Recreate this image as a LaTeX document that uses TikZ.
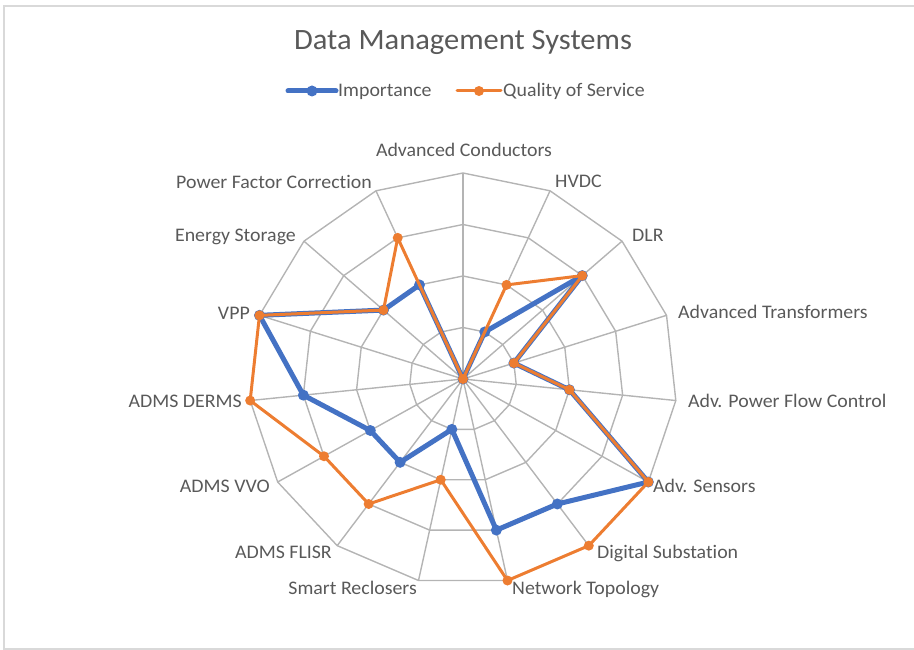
\documentclass[tikz,border=0pt]{standalone}
\usepackage{fontspec}
\setmainfont{Carlito}[FakeStretch=1.035, Ligatures=NoCommon]
\definecolor{txt}{HTML}{595959}
\definecolor{impblue}{HTML}{4472C4}
\definecolor{qosorange}{HTML}{ED7D31}
\definecolor{gridc}{HTML}{B4B4B4}
\definecolor{framec}{HTML}{D9D9D9}
\tikzset{
  lbl/.style={inner sep=0pt, text=txt, font=\fontsize{19.2}{22}\selectfont},
  ttl/.style={inner sep=0pt, text=txt, font=\fontsize{29.5}{32}\selectfont},
  gridline/.style={draw=gridc, line width=1.4pt},
  impline/.style={draw=impblue, line width=5pt, line join=round},
  qosline/.style={draw=qosorange, line width=3pt, line join=round},
}
\begin{document}
\begin{tikzpicture}[x=1pt,y=-1pt]
\useasboundingbox (0,0) rectangle (914,650);
% frame
\draw[framec, line width=2pt] (916,6) -- (4,6) -- (4,649) -- (916,649);
% grid
\foreach \r in {1,2,3,4}{
  \draw[gridline] ({463+214*sin(0)*\r/4},{379-206*cos(0)*\r/4})
    \foreach \k in {1,...,14}{ -- ({463+214*sin(24*\k)*\r/4},{379-206*cos(24*\k)*\r/4}) } -- cycle;
}
\coordinate (c) at (463,379);
\foreach \k in {0,...,14}{
  \coordinate (t\k) at ({463+214*sin(24*\k)},{379-206*cos(24*\k)});
  \draw[gridline] (c) -- (t\k);
}
% data
\foreach \v [count=\i from 0] in {0,1,3,1,2,4,3,3,1,2,2,3,4,2,2}{
  \coordinate (b\i) at ({463+214*sin(24*\i)*\v/4},{379-206*cos(24*\i)*\v/4});
}
\foreach \v [count=\i from 0] in {0,2,3,1,2,4,4,4,2,3,3,4,4,2,3}{
  \coordinate (o\i) at ({463+214*sin(24*\i)*\v/4},{379-206*cos(24*\i)*\v/4});
}
\draw[impline] (b0) \foreach \k in {1,...,14}{ -- (b\k) } -- cycle;
\foreach \k in {0,...,14}{ \fill[impblue] (b\k) circle[radius=5.5pt]; }
\draw[qosline] (o0) \foreach \k in {1,...,14}{ -- (o\k) } -- cycle;
\foreach \k in {0,...,14}{ \fill[qosorange] (o\k) circle[radius=5pt]; }
% labels
\node[lbl, anchor=base] (l0) at (464,157) {Advanced Conductors};
\node[lbl, anchor=base west] (l1) at (555,188) {HVDC};
\node[lbl, anchor=base west] (l2) at (632,241) {DLR};
\node[lbl, anchor=base west] (l3) at (678,318) {Advanced Transformers};
\node[lbl, anchor=base west] (l4) at (688,407) {Adv. Power Flow Control};
\node[lbl, anchor=base west] (l5) at (653,492) {Adv. Sensors};
\node[lbl, anchor=base west] (l6) at (597,558) {Digital Substation};
\node[lbl, anchor=base west] (l7) at (512,594) {Network Topology};
\node[lbl, anchor=base east] (l8) at (417,594) {Smart Reclosers};
\node[lbl, anchor=base east] (l9) at (332,558) {ADMS FLISR};
\node[lbl, anchor=base east] (l10) at (270,492) {ADMS VVO};
\node[lbl, anchor=base east] (l11) at (242,407) {ADMS DERMS};
\node[lbl, anchor=base east] (l12) at (250,319) {VPP};
\node[lbl, anchor=base east] (l13) at (296,241) {Energy Storage};
\node[lbl, anchor=base east] (l14) at (372,189) {Power Factor Correction};
% title
\node[ttl, anchor=base] (title) at (463,50) {Data Management Systems};
% legend
\coordinate (lb1) at (288,91); \coordinate (lb2) at (336,91);
\coordinate (lo1) at (457,91); \coordinate (lo2) at (501,91);
\draw[impblue, line width=5pt, line cap=round] (lb1) -- (lb2);
\fill[impblue] (312,91) circle[radius=5.5pt];
\draw[qosorange, line width=3pt, line cap=round] (lo1) -- (lo2);
\fill[qosorange] (479,91) circle[radius=5pt];
\node[lbl, anchor=base west] (leg1) at (338,97) {Importance};
\node[lbl, anchor=base west] (leg2) at (503,97) {Quality of Service};
\end{tikzpicture}
\end{document}
